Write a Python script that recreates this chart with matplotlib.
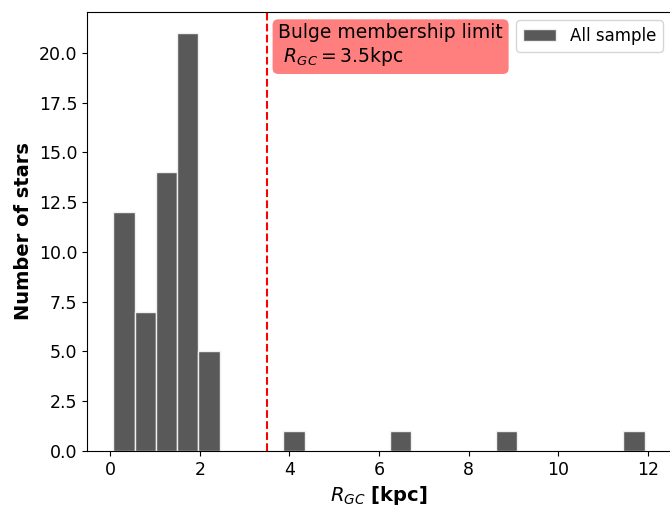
import numpy as np
import matplotlib
matplotlib.use("Agg")
import matplotlib.pyplot as plt

# Histogram data (25 bins spanning the sample range)
r_min = 0.07
r_max = 11.93
n_bins = 25
counts = [12, 7, 14, 21, 5, 0, 0, 0, 1, 0, 0, 0, 0, 1, 0, 0, 0, 0, 1, 0, 0, 0, 0, 0, 1]
limit_kpc = 3.5

edges = np.linspace(r_min, r_max, n_bins + 1)
centers = 0.5 * (edges[:-1] + edges[1:])

fig = plt.figure(figsize=(6.7, 5.05), dpi=100)
ax = fig.add_axes([87/670, 54/505, 584/670, 439/505])

ax.hist(centers, bins=edges, weights=counts, color='#595959', edgecolor='#f0f0f0',
        linewidth=1.0, label='All sample')
ax.axvline(limit_kpc, color='red', linestyle='--', linewidth=1.5)
ax.text(3.75, 21.5, 'Bulge membership limit\n $R_{GC} = 3.5$kpc', fontsize=13.5,
        va='top', ha='left',
        bbox=dict(boxstyle='round,pad=0.3', facecolor='red', alpha=0.5, edgecolor='none'))

ax.set_xlim(-0.52, 12.52)
ax.set_ylim(0, 22.05)
ax.set_xticks([0, 2, 4, 6, 8, 10, 12])
ax.set_yticks(np.arange(0, 22.5, 2.5))
ax.set_yticklabels([f'{v:.1f}' for v in np.arange(0, 22.5, 2.5)])
ax.tick_params(labelsize=12.5)
ax.set_xlabel(r'$R_{GC}$ [kpc]', fontsize=14, fontweight='bold')
ax.set_ylabel('Number of stars', fontsize=14, fontweight='bold')
ax.legend(loc='upper right', fontsize=12)

fig.savefig('out.png', dpi=100)
